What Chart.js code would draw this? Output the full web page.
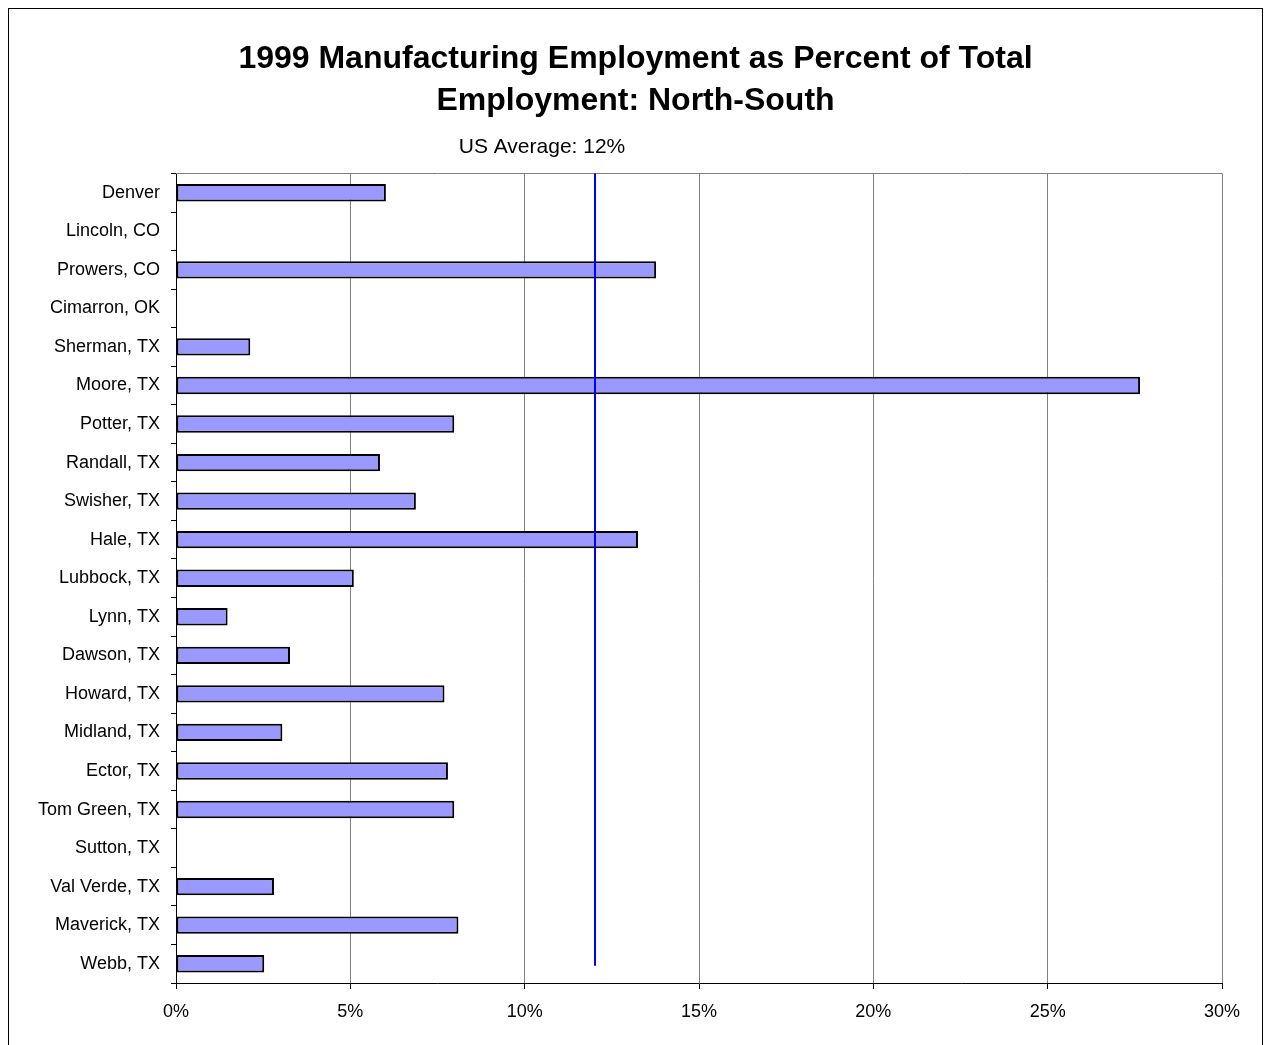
<!DOCTYPE html>
<html>
<head>
<meta charset="utf-8">
<script src="https://cdn.jsdelivr.net/npm/chart.js@4.4.1/dist/chart.umd.min.js"></script>
<style>
  html, body { margin: 0; padding: 0; background: #fff; }
  canvas { display: block; }
</style>
</head>
<body>
<canvas id="mfgChart" width="1266" height="1045"></canvas>
<script>
// counties, north to south
const counties = [
    'Denver', 'Lincoln, CO', 'Prowers, CO', 'Cimarron, OK', 'Sherman, TX', 'Moore, TX',
    'Potter, TX', 'Randall, TX', 'Swisher, TX', 'Hale, TX', 'Lubbock, TX', 'Lynn, TX',
    'Dawson, TX', 'Howard, TX', 'Midland, TX', 'Ector, TX', 'Tom Green, TX', 'Sutton, TX',
    'Val Verde, TX', 'Maverick, TX', 'Webb, TX'
];
// manufacturing share of total employment, %  (null = not reported)
const mfgShare = [
    6.02, null, 13.77, null, 2.13, 27.65,
    7.98, 5.85, 6.88, 13.25, 5.10, 1.48,
    3.27, 7.70, 3.05, 7.80, 7.98, null,
    2.81, 8.10, 2.53
];
const usAverage = 12;
const xTicks = [0, 5, 10, 15, 20, 25, 30];

const FONT = "'Liberation Sans', Arial, sans-serif";
Chart.defaults.font.family = FONT;
Chart.defaults.color = '#000';

// outer frame, top edge of the plot box, average line and its label
const extras = {
    id: 'extras',
    beforeDraw(chart) {
        const c = chart.ctx;
        c.save();
        c.strokeStyle = '#000';
        c.lineWidth = 1;
        c.strokeRect(8.5, 8.5, 1254, 1100);
        c.restore();
    },
    afterDatasetsDraw(chart) {
        const c = chart.ctx;
        const area = chart.chartArea;
        const xs = chart.scales.x, ys = chart.scales.y;
        c.save();
        c.strokeStyle = '#808080';
        c.lineWidth = 1;
        c.beginPath();
        c.moveTo(area.left, Math.round(area.top) + 0.5);
        c.lineTo(area.right, Math.round(area.top) + 0.5);
        c.stroke();

        const ax = Math.round(xs.getPixelForValue(usAverage)) + 1;
        c.strokeStyle = '#0000FF';
        c.lineWidth = 2;
        c.beginPath();
        c.moveTo(ax, area.top);
        c.lineTo(ax, ys.getPixelForValue(counties.length - 1) + 2);
        c.stroke();

        c.fillStyle = '#000';
        c.font = '21px ' + FONT;
        c.textAlign = 'center';
        c.textBaseline = 'middle';
        c.fillText('US Average: ' + usAverage + '%', ax - 53, area.top - 26);
        c.restore();
    }
};

new Chart(document.getElementById('mfgChart'), {
    type: 'bar',
    data: {
        labels: counties,
        datasets: [{
            data: mfgShare,
            backgroundColor: '#9999FF',
            borderColor: '#000',
            borderWidth: 2,
            borderSkipped: false,
            barPercentage: 0.45,
            categoryPercentage: 1
        }]
    },
    options: {
        indexAxis: 'y',
        responsive: false,
        animation: false,
        devicePixelRatio: 1,
        layout: { padding: { left: 5, right: 0, top: 0, bottom: 0 } },
        plugins: {
            legend: { display: false },
            tooltip: { enabled: false },
            title: {
                display: true,
                text: ['1999 Manufacturing Employment as Percent of Total', 'Employment: North-South'],
                font: { size: 32, weight: 'bold', lineHeight: 1.32 },
                color: '#000',
                padding: { top: 38, bottom: 51 }
            }
        },
        scales: {
            x: {
                min: 0,
                max: 30,
                afterBuildTicks(scale) {
                    scale.ticks = xTicks.map(v => ({ value: v }));
                },
                afterFit(scale) {
                    scale.height = 62;
                    scale.paddingRight = 44;
                },
                ticks: {
                    font: { size: 18 },
                    color: '#000',
                    padding: 12,
                    callback: v => v + '%'
                },
                grid: {
                    color: '#808080',
                    tickColor: '#000',
                    tickLength: 6
                },
                border: { color: '#000', width: 1 }
            },
            y: {
                afterFit(scale) { scale.width = 171; },
                ticks: {
                    font: { size: 18 },
                    color: '#000',
                    padding: 11,
                    autoSkip: false
                },
                grid: {
                    offset: true,
                    drawOnChartArea: false,
                    tickColor: '#000',
                    tickLength: 5
                },
                border: { color: '#000', width: 1 }
            }
        }
    },
    plugins: [extras]
});
</script>
</body>
</html>
